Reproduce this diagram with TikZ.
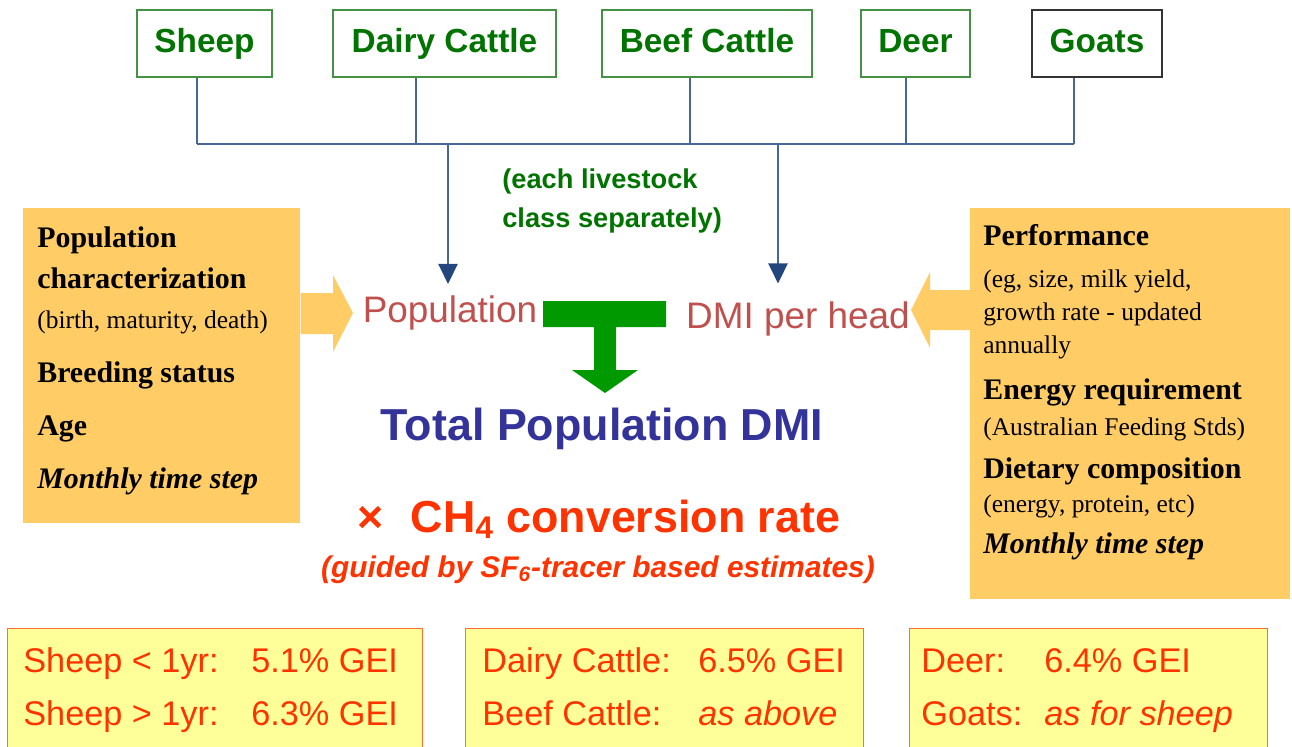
\documentclass[tikz,border=0pt]{standalone}
\usepackage{fontspec}
\setmainfont{Liberation Sans}
\newfontfamily\timesfont{Liberation Serif}
\usetikzlibrary{arrows.meta, positioning, calc}
\definecolor{lgreen}{RGB}{0,115,0}
\definecolor{lframe}{RGB}{70,145,70}
\definecolor{busblue}{RGB}{72,102,150}
\definecolor{tipblue}{RGB}{35,70,125}
\definecolor{boxorange}{RGB}{255,204,102}
\definecolor{popred}{RGB}{192,80,77}
\definecolor{tgreen}{RGB}{0,153,0}
\definecolor{totblue}{RGB}{51,51,153}
\definecolor{chred}{RGB}{255,51,0}
\definecolor{ratefill}{RGB}{255,255,153}
\definecolor{rateframe}{RGB}{255,110,50}

\begin{document}
\begin{tikzpicture}[
    x=0.02cm, y=-0.02cm,
    animal/.style={draw=lframe, line width=1.1pt, text=lgreen, minimum height=1.34cm, inner sep=0pt,
        text height=14pt, text depth=3.2pt, font=\fontsize{19}{22}\selectfont\bfseries},
    bus/.style={busblue, line width=1.6pt},
    feed/.style={bus, -{Triangle[length=0.4cm, width=0.38cm, color=tipblue]}},
    infobox/.style={fill=boxorange, inner sep=0pt, anchor=north west},
    head/.style={anchor=base west, inner sep=0pt, font=\timesfont\fontsize{17}{20}\selectfont\bfseries},
    note/.style={anchor=base west, inner sep=0pt, font=\timesfont\fontsize{14.5}{17}\selectfont},
    qty/.style={anchor=base, inner xsep=0pt, text=popred, font=\fontsize{21}{24}\selectfont},
    rate/.style={fill=ratefill, draw=rateframe, line width=0.8pt, inner sep=0pt, anchor=north west,
        minimum height=2.7cm},
    ratetxt/.style={anchor=base west, inner sep=0pt, text=chred, font=\fontsize{19.5}{22}\selectfont}
]
    \useasboundingbox (0,0) rectangle (1292,747);

    % Livestock classes
    \node[animal, minimum width=2.7cm] (sheep) at (204.5,43.5) {Sheep};
    \node[animal, minimum width=4.46cm] (dairy) at (444.5,43.5) {Dairy Cattle};
    \node[animal, minimum width=4.2cm] (beef) at (707,43.5) {Beef Cattle};
    \node[animal, minimum width=2.18cm] (deer) at (915.5,43.5) {Deer};
    \node[animal, minimum width=2.6cm, draw=black!80] (goats) at (1097,43.5) {Goats};

    % Bus
    \foreach \n/\x in {sheep/197, dairy/416, beef/690, deer/906, goats/1074} {
        \coordinate (j-\n) at (\x,144);
        \draw[bus] (\n.south -| j-\n) -- (j-\n);
    }
    \draw[bus] (j-sheep) -- (j-goats);
    \coordinate (t1) at (448,144);
    \coordinate (t2) at (778,144);

    \node[anchor=base west, inner sep=0pt, align=left, text=lgreen,
        font=\fontsize{15.5}{22}\selectfont\bfseries] (each) at (502,227)
        {(each livestock\\class separately)};

    % Side panels
    \node[infobox, minimum width=5.54cm, minimum height=6.3cm] (popbox) at (23,208) {};
    \node[infobox, minimum width=6.4cm, minimum height=7.82cm] (perfbox) at (970,208) {};

    \node[head] (p1) at (37,247) {Population};
    \node[head] (p2) at (37,288) {characterization};
    \node[note] (p3) at (37,328) {(birth, maturity, death)};
    \node[head] (p4) at (37,382) {Breeding status};
    \node[head] (p5) at (37,435) {Age};
    \node[head] (p6) at (37,488) {\itshape Monthly time step};

    \node[head] (d1) at (983,245) {Performance};
    \node[note] (d2) at (983,287) {(eg, size, milk yield,};
    \node[note] (d3) at (983,320) {growth rate - updated};
    \node[note] (d4) at (983,353) {annually};
    \node[head] (d5) at (983,399) {Energy requirement};
    \node[note] (d6) at (983,435) {(Australian Feeding Stds)};
    \node[head] (d7) at (983,478) {Dietary composition};
    \node[note] (d8) at (983,512) {(energy, protein, etc)};
    \node[head] (d9) at (983,553) {\itshape Monthly time step};

    % Block arrows
    \fill[boxorange] (popbox.east |- 0,293) -- (333,293) -- (333,275) -- (353,313)
        -- (333,352) -- (333,334) -- (popbox.east |- 0,334) -- cycle;
    \fill[boxorange] (perfbox.west |- 0,290) -- (930,290) -- (930,272) -- (911,310)
        -- (930,348) -- (930,330) -- (perfbox.west |- 0,330) -- cycle;

    % Quantities
    \node[qty, inner ysep=0.22cm] (pop) at (450,322) {Population};
    \node[qty, inner ysep=0.35cm] (dmi) at (798,328) {DMI per head};
    \draw[feed] (t1) -- (t1 |- pop.north);
    \draw[feed] (t2) -- (t2 |- dmi.north);

    \fill[tgreen] (543,301) -- (666,301) -- (666,327) -- (616,327) -- (616,370) -- (638,370)
        -- (605,393) -- (572,370) -- (594,370) -- (594,327) -- (543,327) -- cycle;

    \node[anchor=base, inner sep=0pt, text=totblue, font=\fontsize{25.5}{28}\selectfont\bfseries]
        (total) at (602,440) {Total Population DMI};
    \node[anchor=base, inner sep=0pt, text=chred, font=\fontsize{25.5}{28}\selectfont\bfseries]
        (ch4) at (599,532) {×\hspace{0.6em}CH\textsubscript{4} conversion rate};
    \node[anchor=base, inner sep=0pt, text=chred, font=\fontsize{17}{20}\selectfont\bfseries\itshape]
        (guide) at (598,577) {(guided by SF\textsubscript{6}-tracer based estimates)};

    % Conversion rates
    \node[rate, minimum width=8.3cm] (rsheep) at (7,628) {};
    \node[rate, minimum width=7.96cm] (rcattle) at (465,628) {};
    \node[rate, minimum width=7.16cm] (rother) at (909,628) {};

    \node[ratetxt] (s1) at (23,672) {Sheep < 1yr:};
    \node[ratetxt] (s2) at (251,672) {5.1\% GEI};
    \node[ratetxt] (s3) at (23,725) {Sheep > 1yr:};
    \node[ratetxt] (s4) at (251,725) {6.3\% GEI};
    \node[ratetxt] (c1) at (482,672) {Dairy Cattle:};
    \node[ratetxt] (c2) at (698,672) {6.5\% GEI};
    \node[ratetxt] (c3) at (482,725) {Beef Cattle:};
    \node[ratetxt] (c4) at (698,725) {\itshape as above};
    \node[ratetxt] (o1) at (921,672) {Deer:};
    \node[ratetxt] (o2) at (1044,672) {6.4\% GEI};
    \node[ratetxt] (o3) at (921,725) {Goats:};
    \node[ratetxt] (o4) at (1044,725) {\itshape as for sheep};
\end{tikzpicture}
\end{document}
